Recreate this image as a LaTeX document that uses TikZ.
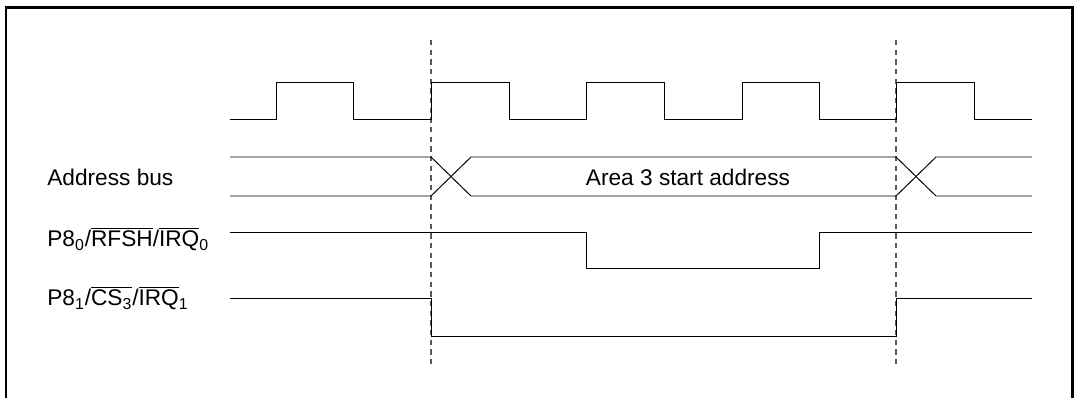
\documentclass[tikz,border=0pt]{standalone}
\usepackage{fontspec}
\setmainfont{Liberation Sans}
\usetikzlibrary{positioning}
\newcommand{\ovl}[1]{$\overline{\hbox{#1}}$}

\begin{document}
\begin{tikzpicture}[
  x=0.02cm, y=-0.02cm,
  font=\fontsize{12.9}{15}\selectfont,
  lbl/.style={anchor=west, inner sep=0pt},
  wave/.style={line width=0.55pt, line join=miter},
  guide/.style={line width=0.6pt, black!65, dash pattern=on 3pt off 2.5pt},
  frame/.style={line width=1.7pt},
]
\useasboundingbox (0,0) rectangle (1076,397);
\draw[frame] (6,410) -- (6,7) -- (1072,7) -- (1072,410);

% guides
\draw[guide] (431,40) -- (431,366);
\draw[guide] (896,40) -- (896,366);

% clock
\draw[wave] (230,119) -- (276,119) -- (276,82) -- (353,82) -- (353,119)
  -- (431,119) -- (431,82) -- (509,82) -- (509,119)
  -- (586,119) -- (586,82) -- (664,82) -- (664,119)
  -- (742,119) -- (742,82) -- (819,82) -- (819,119)
  -- (896,119) -- (896,82) -- (974,82) -- (974,119) -- (1032,119);

% signal names
\node[lbl] (addr) at (47,177) {Address bus};
\node[lbl] (rfsh) at (47,239) {P8\textsubscript{0}/\ovl{RFSH}/\ovl{IRQ}\textsubscript{0}};
\node[lbl] (cs) at (47,298) {P8\textsubscript{1}/\ovl{CS\textsubscript{3}}/\ovl{IRQ}\textsubscript{1}};

% address bus
\draw[wave] (230,157) -- (431,157) -- (471,196) -- (896,196) -- (936,157) -- (1032,157);
\draw[wave] (230,196) -- (431,196) -- (471,157) -- (896,157) -- (936,196) -- (1032,196);
\node (area) at (688,177) {Area 3 start address};

% P80
\draw[wave] (230,232) -- (586,232) -- (586,268) -- (819,268) -- (819,232) -- (1032,232);

% P81
\draw[wave] (230,298) -- (431,298) -- (431,336) -- (896,336) -- (896,298) -- (1032,298);
\end{tikzpicture}
\end{document}
